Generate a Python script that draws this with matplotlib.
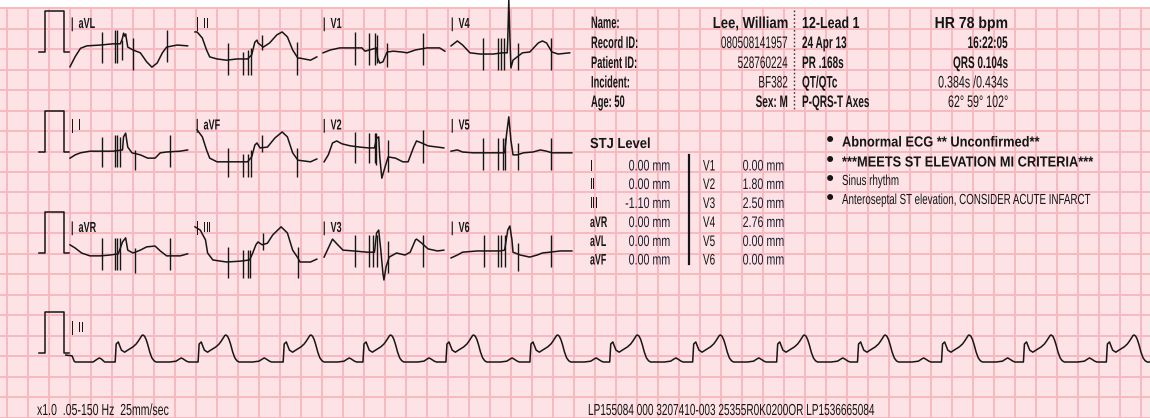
import matplotlib
matplotlib.use("Agg")
import matplotlib.pyplot as plt
from matplotlib.transforms import Affine2D, Bbox
from matplotlib.patheffects import AbstractPathEffect
from matplotlib.patches import Rectangle
from matplotlib.text import Text

# ------------------------------------------------------------------ data
# 12-lead layout: three rows of four 1.2 s segments
lead_rows = [["aVL", "II", "V1", "V4"],
             ["I", "aVF", "V2", "V5"],
             ["aVR", "III", "V3", "V6"]]

# each lead: time (s from segment start), amplitude (mm, 10 mm = 1 mV,
# relative to the calibration-pulse base of its row), and artefact spikes
# given as (time, top mm, bottom mm)
aVL_t = [0.00, 0.05, 0.10, 0.16, 0.29, 0.41, 0.48, 0.50, 0.51, 0.52, 0.53, 0.55, 0.60,
         0.67, 0.73, 0.78, 0.83, 0.88, 0.92, 1.02, 1.12]
aVL_mm = [-3.6, -1.1, 0.9, 1.5, 1.7, 2.0, 2.0, 3.4, 4.6, 3.9, 4.4, 1.2, 0.5,
          -0.2, -2.4, -3.7, -2.7, -0.2, 1.2, 1.7, 1.5]
aVL_spikes = [(0.30, 4.9, -2.7), (0.43, 5.4, -2.7), (0.45, 5.4, -2.7),
              (0.50, 2.9, -2.0), (0.60, 3.4, -4.4), (0.92, 5.4, -2.4)]

II_t = [0.00, 0.02, 0.07, 0.11, 0.14, 0.21, 0.30, 0.40, 0.50, 0.54, 0.57, 0.59, 0.60,
        0.65, 0.71, 0.78, 0.83, 0.88, 0.93, 0.98, 1.00, 1.10, 1.16]
II_mm = [4.9, 4.9, 3.4, 0.5, -1.2, -1.7, -2.0, -1.7, -1.7, -0.7, 2.4, 2.9, 2.2,
         1.2, 2.2, 4.2, 4.9, 3.7, 0.5, -1.5, -1.5, -2.0, -1.2]
II_spikes = [(0.31, 2.2, -5.6), (0.46, 0.0, -5.6), (0.50, 0.5, -5.6),
             (0.53, 1.0, -5.6), (0.64, 4.2, 0.5), (0.97, 2.4, -5.6)]

V1_t = [0.01, 0.08, 0.17, 0.30, 0.38, 0.41, 0.48, 0.52, 0.53, 0.55, 0.58, 0.62,
        0.68, 0.76, 0.81, 0.89, 1.00, 1.12, 1.17]
V1_mm = [-0.2, 0.5, 1.0, 1.0, 1.0, 0.2, 0.7, 1.0, -1.5, -2.7, -2.4, 0.0,
         0.2, 0.0, -0.2, 0.5, 1.0, 1.0, 0.2]
V1_spikes = [(0.31, 4.9, -3.2), (0.45, 4.6, -3.2), (0.50, 4.6, -3.2),
             (0.52, 4.2, -2.7), (0.62, 2.2, -3.7), (0.96, 4.6, -3.2)]

V4_t = [0.01, 0.07, 0.12, 0.19, 0.29, 0.41, 0.50, 0.545, 0.55, 0.56, 0.57, 0.58,
        0.60, 0.64, 0.69, 0.76, 0.84, 0.88, 0.92, 0.97, 1.03, 1.14]
V4_mm = [1.5, 2.7, 1.7, -0.2, -0.5, -0.5, -0.2, -0.2, 3.0, 12.7, 4.0, -3.9,
         -2.0, -1.2, -0.2, 0.0, 2.2, 2.7, 2.2, 0.0, -0.5, -0.2]
V4_spikes = [(0.31, 3.4, -4.4), (0.46, 3.4, -4.4), (0.49, 3.4, -4.4),
             (0.51, 3.4, -4.4), (0.65, 2.2, -4.4), (0.96, 3.4, -4.4)]

I_t = [0.00, 0.05, 0.10, 0.19, 0.29, 0.41, 0.50, 0.51, 0.53, 0.55, 0.59, 0.67,
       0.74, 0.81, 0.86, 0.92, 1.05, 1.12]
I_mm = [-1.5, -0.7, -0.2, 0.2, 0.2, 0.2, 0.5, 3.7, 4.6, 1.2, -0.2, -0.7,
        -1.5, -1.5, -0.2, 0.0, 0.2, 0.5]
I_spikes = [(0.30, 3.7, -3.7), (0.43, 4.2, -3.7), (0.45, 4.2, -3.7),
            (0.48, 3.7, -3.7), (0.62, 0.5, -4.4), (0.95, 4.2, -3.7)]

aVF_t = [0.02, 0.07, 0.11, 0.14, 0.21, 0.36, 0.50, 0.54, 0.57, 0.59, 0.62, 0.69,
         0.76, 0.83, 0.88, 0.93, 0.98, 1.10, 1.16]
aVF_mm = [5.4, 3.7, 0.5, -1.5, -2.4, -2.4, -2.4, -1.2, 1.7, 2.2, 1.0, 1.2,
          3.4, 4.9, 3.7, -0.2, -2.0, -2.4, -1.7]
aVF_spikes = [(0.31, 1.0, -6.1), (0.46, -0.5, -6.1), (0.50, -0.5, -6.1),
              (0.53, 0.5, -6.1), (0.64, 4.2, 0.0), (0.97, 1.0, -6.1)]

V2_t = [0.02, 0.06, 0.10, 0.14, 0.19, 0.27, 0.36, 0.44, 0.50, 0.52, 0.54, 0.55,
        0.57, 0.60, 0.63, 0.70, 0.77, 0.82, 0.87, 0.90, 0.95, 1.01, 1.10, 1.16]
V2_mm = [-2.4, -0.7, 2.2, 2.7, 2.0, 1.5, 1.2, 1.0, 1.0, 3.4, 3.7, -1.2,
         -6.4, -3.7, -1.2, -1.5, -2.4, -2.4, 1.0, 2.7, 2.2, 1.5, 1.2, 1.0]
V2_spikes = [(0.31, 4.9, -2.7), (0.45, 4.6, -2.7), (0.50, 4.6, -2.7),
             (0.51, 4.6, -3.2), (0.63, 2.9, -4.9), (0.96, 5.4, -2.7)]

V5_t = [0.01, 0.07, 0.12, 0.22, 0.35, 0.48, 0.52, 0.54, 0.56, 0.58, 0.60, 0.64,
        0.70, 0.79, 0.86, 0.92, 0.97, 1.05, 1.16]
V5_mm = [0.2, 0.5, 0.0, -0.2, -0.2, -0.2, -0.2, 4.6, 8.6, 2.9, -0.7, -0.7,
         -0.2, 0.0, 0.5, 0.2, -0.2, -0.2, -0.2]
V5_spikes = [(0.31, 3.4, -4.4), (0.46, 3.4, -4.4), (0.50, 3.4, -4.4),
             (0.52, 3.4, -4.4), (0.65, 2.2, -4.4), (0.96, 3.4, -4.4)]

aVR_t = [0.00, 0.05, 0.11, 0.19, 0.29, 0.38, 0.46, 0.50, 0.53, 0.55, 0.60, 0.67,
         0.73, 0.81, 0.86, 0.92, 1.05, 1.12]
aVR_mm = [2.0, 1.2, 0.0, -0.7, -0.7, -0.5, -0.2, 2.7, 3.7, 0.7, 0.0, 0.7,
          1.5, 1.7, 0.5, -0.7, -0.7, -0.2]
aVR_spikes = [(0.30, 3.7, -4.2), (0.43, 3.7, -4.2), (0.45, 3.7, -4.2),
              (0.48, 3.7, -4.2), (0.62, 1.2, -4.9), (0.95, 3.7, -4.2)]

III_t = [0.00, 0.05, 0.10, 0.12, 0.17, 0.30, 0.43, 0.52, 0.55, 0.58, 0.60, 0.64,
         0.69, 0.74, 0.82, 0.88, 0.93, 0.98, 1.00, 1.10, 1.16]
III_mm = [6.4, 5.6, 3.2, 0.0, -1.7, -2.2, -2.0, -1.7, 0.0, 2.0, 2.7, 2.0,
          2.4, 4.4, 6.4, 4.9, 0.7, -1.2, -2.2, -2.2, -1.5]
III_spikes = [(0.31, 1.5, -6.1), (0.46, 0.7, -6.1), (0.50, 0.7, -6.1),
              (0.52, 0.7, -6.1), (0.65, 4.9, 0.7), (0.98, 1.5, -6.1)]

V3_t = [0.02, 0.06, 0.10, 0.15, 0.20, 0.30, 0.43, 0.50, 0.52, 0.54, 0.56, 0.58,
        0.59, 0.61, 0.64, 0.71, 0.79, 0.84, 0.89, 0.90, 0.95, 1.01, 1.10, 1.16]
V3_mm = [-1.0, 1.2, 3.4, 2.0, 0.7, 0.5, 0.2, 0.2, 4.9, 5.6, 0.7, -4.9,
         -6.6, -3.4, -1.0, 0.0, -0.5, 0.2, 3.2, 3.4, 2.4, 1.0, 0.5, 0.7]
V3_spikes = [(0.31, 4.4, -3.4), (0.45, 4.4, -3.4), (0.49, 4.4, -3.4),
             (0.52, 4.4, -3.4), (0.63, 2.9, -4.9), (0.96, 4.4, -3.4)]

V6_t = [0.01, 0.07, 0.12, 0.26, 0.38, 0.48, 0.52, 0.55, 0.57, 0.59, 0.60, 0.67,
        0.76, 0.83, 0.88, 0.95, 1.05, 1.16]
V6_mm = [-1.2, -0.5, 0.2, 0.5, 0.5, 0.5, 0.7, 5.6, 6.6, 3.2, 0.2, -0.5,
         -1.0, -0.5, 0.0, 0.2, 0.5, 0.5]
V6_spikes = [(0.32, 4.4, -3.4), (0.46, 4.4, -3.4), (0.49, 4.4, -3.4),
             (0.52, 4.4, -3.4), (0.65, 2.4, -4.4), (0.96, 4.4, -3.4)]

# lead II rhythm strip: QRS onsets (s), one averaged beat, and the lead-in
rhythm_qrs_t = [0.43, 1.22, 2.03, 2.79, 3.58, 4.38, 5.14, 5.93, 6.73, 7.50,
                8.30, 9.08, 9.87]
beat_t = [0.00, 0.01, 0.03, 0.04, 0.06, 0.09, 0.12, 0.17, 0.20, 0.22, 0.24, 0.255,
          0.265, 0.28, 0.295, 0.31, 0.33, 0.35, 0.37, 0.39, 0.52, 0.58, 0.61, 0.63,
          0.65, 0.68, 0.70]
beat_mm = [0.0, 4.4, 4.9, 4.2, 2.9, 2.4, 2.9, 3.7, 4.4, 5.1, 5.9, 6.5,
           6.6, 6.3, 5.5, 4.3, 2.4, 1.0, 0.3, 0.0, 0.0, 0.2, 0.7, 1.0,
           0.7, 0.2, 0.0]
strip_lead_t = [-0.04, 0.02, 0.04, 0.05, 0.22, 0.26, 0.28, 0.30, 0.33]
strip_lead_mm = [-0.5, -0.7, -2.0, -2.2, -2.2, -1.5, -1.2, -1.5, -2.2]
strip_baseline_mm = -2.2

# 1 mV calibration pulse
cal_t = [0.0, 0.057, 0.057, 0.238, 0.238, 0.286]
cal_mm = [0.0, 0.0, 10.0, 10.0, 0.0, 0.0]

# report text
hdr_labels = ["Name:", "Record ID:", "Patient ID:", "Incident:", "Age: 50"]
hdr_values = ["Lee, William", "080508141957", "528760224", "BF382", "Sex: M"]
hdr_col3 = ["12-Lead 1", "24 Apr 13", "PR .168s", "QT/QTc", "P-QRS-T Axes"]
hdr_col4 = ["HR 78 bpm", "16:22:05", "QRS 0.104s", "0.384s /0.434s", "62° 59° 102°"]

stj_limb = ["I", "II", "III", "aVR", "aVL", "aVF"]
stj_limb_mm = [0.00, 0.00, -1.10, 0.00, 0.00, 0.00]
stj_chest = ["V1", "V2", "V3", "V4", "V5", "V6"]
stj_chest_mm = [0.00, 1.80, 2.50, 2.76, 0.00, 0.00]

statements = ["Abnormal ECG ** Unconfirmed**",
              "***MEETS ST ELEVATION MI CRITERIA***",
              "Sinus rhythm",
              "Anteroseptal ST elevation, CONSIDER ACUTE INFARCT"]

footer_left = "x1.0  .05-150 Hz  25mm/sec"
footer_right = "LP155084 000 3207410-003 25355R0K0200OR LP1536665084"

lead_data = {
    "aVL": (aVL_t, aVL_mm, aVL_spikes), "II": (II_t, II_mm, II_spikes),
    "V1": (V1_t, V1_mm, V1_spikes), "V4": (V4_t, V4_mm, V4_spikes),
    "I": (I_t, I_mm, I_spikes), "aVF": (aVF_t, aVF_mm, aVF_spikes),
    "V2": (V2_t, V2_mm, V2_spikes), "V5": (V5_t, V5_mm, V5_spikes),
    "aVR": (aVR_t, aVR_mm, aVR_spikes), "III": (III_t, III_mm, III_spikes),
    "V3": (V3_t, V3_mm, V3_spikes), "V6": (V6_t, V6_mm, V6_spikes),
}

# ------------------------------------------------------------------ page geometry
W, H = 1150, 418
PX_PER_S = 105.0      # 25 mm/s: one 5 mm square = 21 px
PX_PER_MM = 4.092     # 10 mm/mV
X0, Y0 = 6.7, 8.3     # first major grid line (px)
PAPER_TOP = 7.0

COL_X = [70, 195, 322, 450]        # segment starts (px)
ROW_Y = [52, 152, 253]             # calibration base per row (px)
STRIP_Y = 353
CAL_X = 39

INK = "#161616"
BG = "#fde3e6"
GRID = "#f6b9bf"


def t_of(px):
    return (px - X0) / PX_PER_S


def mm_of(py):
    return (Y0 - py) / PX_PER_MM


class Tall(AbstractPathEffect):
    """Stretch glyph outlines vertically about the baseline (condensed look)."""

    def __init__(self, sy):
        super().__init__()
        self.sy = sy

    def draw_path(self, renderer, gc, tpath, affine, rgbFace=None):
        oy = affine.get_matrix()[1, 2]
        aff = affine + Affine2D().translate(0, -oy).scale(1.0, self.sy).translate(0, oy)
        renderer.draw_path(gc, tpath, aff, rgbFace)


class CondensedText(Text):
    """Narrow type: laid out at a reduced size, drawn at full cap height."""

    def __init__(self, *args, sy=1.0, **kwargs):
        super().__init__(*args, **kwargs)
        self._sy = sy
        self.set_path_effects([Tall(sy)])

    def get_window_extent(self, renderer=None, dpi=None):
        bb = super().get_window_extent(renderer, dpi)
        by = self.get_transform().transform(self.get_position())[1]
        return Bbox([[bb.x0, by + (bb.y0 - by) * self._sy],
                     [bb.x1, by + (bb.y1 - by) * self._sy]])


fig = plt.figure(figsize=(W / 100, H / 100), dpi=100, facecolor="white")
ax = fig.add_axes([0, 0, 1, 1])
ax.set_xlim(t_of(0), t_of(W))
ax.set_ylim(mm_of(H), mm_of(0))
ax.set_axis_off()

PX = Affine2D().scale(1.0 / W, -1.0 / H).translate(0, 1) + fig.transFigure


def put(x, y, s, size, sx, weight="bold", ha="left", color=INK):
    # width of `size`-pt type condensed to `sx`; height kept at `size`
    t = CondensedText(x, y, s, sy=1.0 / sx, color=color, fontsize=size * sx,
                      fontweight=weight, horizontalalignment=ha,
                      verticalalignment="baseline", family="Liberation Sans", zorder=6)
    t.set_transform(PX)
    t.set_clip_on(False)
    ax.add_artist(t)
    return t


# paper and 5 mm grid
ax.add_patch(Rectangle((0, PAPER_TOP), W, H - PAPER_TOP, transform=PX,
                       facecolor=BG, edgecolor="none", zorder=0))
top_mm = mm_of(PAPER_TOP)
k = 0
gx = []
while X0 + 21.0 * k <= W:
    gx.append(0.2 * k)
    k += 1
ax.vlines(gx, mm_of(H) - 1, top_mm, colors=GRID, lw=1.4, zorder=1)
gy = [-5.0 * j for j in range(0, 21)]
ax.hlines(gy, t_of(-2), t_of(W + 2), colors=GRID, lw=1.4, zorder=1)

trace_kw = dict(color=INK, lw=1.1, solid_joinstyle="round", zorder=3)

# calibration pulses
for ry in ROW_Y + [STRIP_Y]:
    ax.plot([t_of(CAL_X) + v for v in cal_t], [mm_of(ry) + v for v in cal_mm], **trace_kw)

# 12-lead segments
for r, names in enumerate(lead_rows):
    base = mm_of(ROW_Y[r])
    for c, name in enumerate(names):
        t0 = t_of(COL_X[c])
        tt, vv, spikes = lead_data[name]
        ax.plot([t0 + v for v in tt], [base + v for v in vv], **trace_kw)
        ax.vlines([t0 + s[0] for s in spikes], [base + s[2] for s in spikes],
                  [base + s[1] for s in spikes], colors=INK, lw=1.0, zorder=3)
        put(COL_X[c] + 1, ROW_Y[r] - 24 + (r * 1.5), "|  " + name, 10.5, 0.62)

# rhythm strip
rt = list(strip_lead_t)
rm = list(strip_lead_mm)
for q in rhythm_qrs_t:
    rt += [q + b for b in beat_t]
    rm += [strip_baseline_mm + b for b in beat_mm]
t0 = t_of(70)
sb = mm_of(STRIP_Y)
ax.plot([t0 + v for v in rt], [sb + v for v in rm], **trace_kw)
put(71, 332, "|  II", 10.5, 0.62)

# header block
hdr_base = [28, 48, 68, 87.5, 107]
for i, y in enumerate(hdr_base):
    put(591, y, hdr_labels[i], 12, 0.56)
    if i == 0:
        put(788, y, hdr_values[i], 11.5, 0.82, ha="right")
        put(802, y, hdr_col3[i], 11.5, 0.78)
        put(1008, y, hdr_col4[i], 11.5, 0.88, ha="right")
    else:
        w = "bold" if i == 4 else "normal"
        put(788, y, hdr_values[i], 12, 0.6, weight=w, ha="right")
        put(802, y, hdr_col3[i], 12, 0.6)
        w4 = "bold" if i in (1, 2) else "normal"
        put(1008, y, hdr_col4[i], 12, 0.6 if w4 == "bold" else 0.64, weight=w4, ha="right")
ax.plot([794, 794], [10, 110], transform=PX, color="#3a3a3a", lw=1.0,
        linestyle=(0, (1.2, 1.6)), zorder=5)

# ST-J level table
put(590, 148, "STJ Level", 10.5, 0.89)
stj_base = [170.5, 189, 208, 227, 246, 264.5]
VAL = "#1d1d30"
for i, y in enumerate(stj_base):
    put(590, y, stj_limb[i], 11, 0.58)
    put(670, y, f"{stj_limb_mm[i]:.2f} mm", 11, 0.7, weight="normal", ha="right", color=VAL)
    put(703, y, stj_chest[i], 11, 0.65, weight="normal")
    put(784, y, f"{stj_chest_mm[i]:.2f} mm", 11, 0.7, weight="normal", ha="right", color=VAL)
ax.plot([689, 689], [155, 264], transform=PX, color=INK, lw=1.6, zorder=5)

# interpretation statements
st_base = [146.5, 166.5, 185, 204]
for i, y in enumerate(st_base):
    ax.text(830, y + 1, "\u2022", transform=PX, fontsize=15, ha="center", va="baseline",
            family="DejaVu Sans", color=INK, zorder=6)
    if i < 2:
        put(842, y, statements[i], 10.5, 0.88)
    else:
        put(842, y, statements[i], 10.5, 0.67, weight="normal")

# footer
put(37, 415, footer_left, 11.5, 0.66, weight="normal")
put(588, 415, footer_right, 11.5, 0.63, weight="normal")

fig.savefig("out.png", dpi=100, facecolor="white")
